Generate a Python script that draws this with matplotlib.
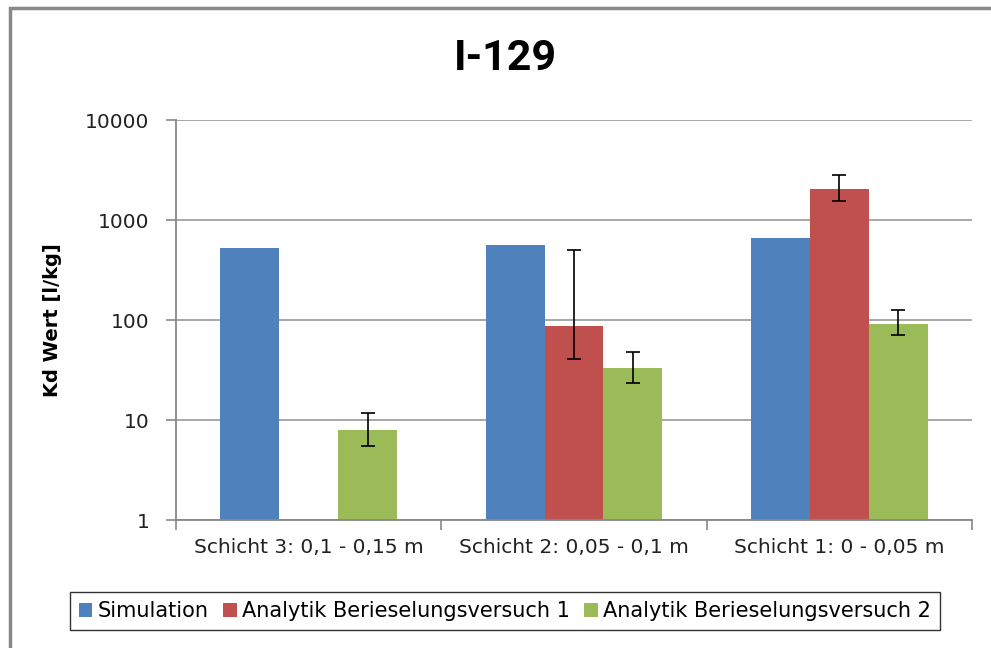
import numpy as np
import matplotlib
matplotlib.use('Agg')
import matplotlib.pyplot as plt
from matplotlib.patches import Rectangle

plt.rcParams['font.family'] = ['DejaVu Sans']

categories = ['Schicht 3: 0,1 - 0,15 m', 'Schicht 2: 0,05 - 0,1 m', 'Schicht 1: 0 - 0,05 m']
series = ['Simulation', 'Analytik Berieselungsversuch 1', 'Analytik Berieselungsversuch 2']

simulation = [528, 558, 665]
versuch1 = [np.nan, 86.5, 2030]
versuch2 = [7.9, 32.9, 92]

# error bar ends (lower, upper)
versuch1_low = [np.nan, 41, 1550]
versuch1_high = [np.nan, 505, 2800]
versuch2_low = [5.5, 23.4, 70]
versuch2_high = [11.8, 47.5, 126]

colors = ['#4F81BD', '#C0504D', '#9BBB59']

fig = plt.figure(figsize=(9.91, 6.48), dpi=100)
ax = fig.add_axes([176/991, 1-520/648, 796/991, 400/648])

x = np.arange(len(categories))
w = 0.222

ax.bar(x - w, simulation, w, color=colors[0], label=series[0], zorder=2)

v1 = np.array(versuch1)
err1 = [v1 - np.array(versuch1_low), np.array(versuch1_high) - v1]
ax.bar(x, v1, w, color=colors[1], label=series[1], zorder=2)
ax.errorbar(x, v1, yerr=err1, fmt='none', ecolor='black', elinewidth=1.2,
            capsize=5, capthick=1.2, zorder=3)

v2 = np.array(versuch2)
err2 = [v2 - np.array(versuch2_low), np.array(versuch2_high) - v2]
ax.bar(x + w, v2, w, color=colors[2], label=series[2], zorder=2)
ax.errorbar(x + w, v2, yerr=err2, fmt='none', ecolor='black', elinewidth=1.2,
            capsize=5, capthick=1.2, zorder=3)

ax.set_yscale('log')
ax.set_ylim(1, 10000)
ax.set_xlim(-0.5, 2.5)
ax.set_yticks([1, 10, 100, 1000, 10000])
ax.set_yticklabels(['1', '10', '100', '1000', '10000'])
ax.minorticks_off()
ax.yaxis.grid(True, color='#a0a0a0', lw=1.3, zorder=0)
ax.set_axisbelow(True)

ax.set_xticks(x)
ax.set_xticklabels(categories)
ax.set_xticks([-0.5, 0.5, 1.5, 2.5], minor=True)
ax.tick_params(axis='x', which='major', length=0, pad=13, labelsize=14.5, colors='#222222')
ax.tick_params(axis='x', which='minor', length=7, width=1.2, color='#888888')
ax.tick_params(axis='y', length=7, width=1.2, color='#888888', labelsize=14.5,
               labelcolor='#222222', pad=12)

for s in ['top', 'right']:
    ax.spines[s].set_visible(False)
for s in ['left', 'bottom']:
    ax.spines[s].set_color('#888888')
    ax.spines[s].set_linewidth(1.3)

ax.set_ylabel('Kd Wert [l/kg]', fontsize=14, fontweight='bold')
ax.yaxis.set_label_coords((62-176)/796, 0.5)

fig.text(505/991, 1-58/648, 'I-129', ha='center', va='center',
         fontsize=31, fontweight='bold', family='Roboto')

leg = fig.legend(loc='center', bbox_to_anchor=(505/991, 1-611/648), ncol=3,
                 fontsize=15, frameon=True, fancybox=False, edgecolor='black',
                 handlelength=0.65, handleheight=0.65, handletextpad=0.25,
                 columnspacing=0.7, borderpad=0.45)
leg.get_frame().set_linewidth(1.0)

# chart area border
fig.patches.append(Rectangle((10/991, -0.1), 1.1, 1.1 - 8/648, transform=fig.transFigure,
                             fill=False, edgecolor='#888888', lw=2.5))

fig.savefig('out.png', dpi=100)
